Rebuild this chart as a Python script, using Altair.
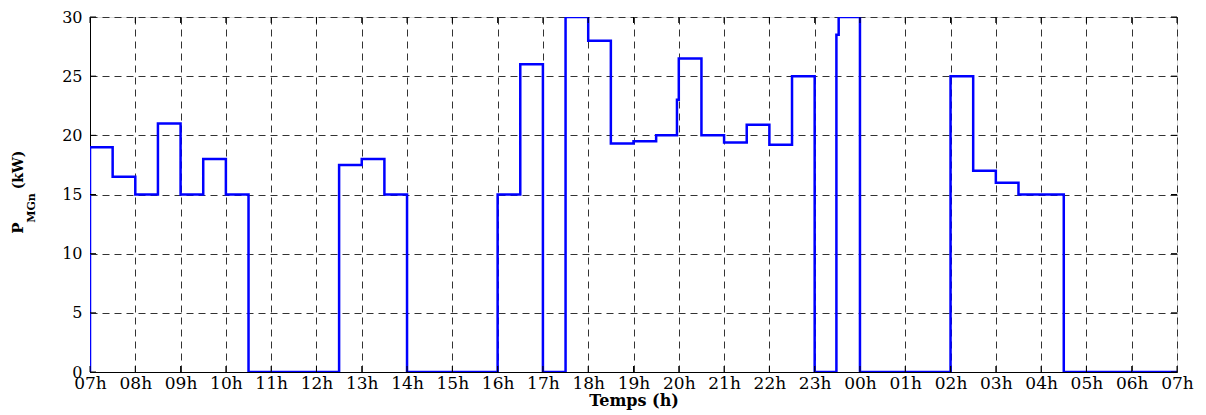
import altair as alt
import pandas as pd

# step-change times (hours after 07h) and power values (kW)
times = [0, 0, 0.5, 1.0, 1.5, 2.0, 2.5, 3.0, 3.5, 5.5, 6.0, 6.5, 7.0, 9.0, 9.5, 10.0,
         10.5, 11.0, 11.5, 12.0, 12.5, 12.96, 13.0, 13.5, 14.0, 14.5, 15.0, 15.5,
         16.0, 16.48, 16.53, 17.0, 19.0, 19.5, 20.0, 20.5, 21.5, 24.0]
power = [0, 19, 16.5, 15, 21, 15, 18, 15, 0, 17.5, 18, 15, 0, 15, 26, 0,
         30, 28, 19.3, 19.5, 20, 23, 26.5, 20, 19.4, 20.9, 19.2, 25,
         0, 28.5, 30, 0, 25, 17, 16, 15, 0, 0]

x_ticks = list(range(25))
x_labels = ["07h", "08h", "09h", "10h", "11h", "12h", "13h", "14h", "15h", "16h",
            "17h", "18h", "19h", "20h", "21h", "22h", "23h", "00h", "01h", "02h",
            "03h", "04h", "05h", "06h", "07h"]
y_ticks = [0, 5, 10, 15, 20, 25, 30]

W, H = 1087, 355
FONT = "DejaVu Serif"

df = pd.DataFrame({"t": times, "p": power, "i": range(len(times))})
label_expr = "[" + ",".join("'%s'" % s for s in x_labels) + "][datum.value]"

xs = alt.Scale(domain=[0, 24], nice=False, zero=False)
ys = alt.Scale(domain=[0, 30], nice=False)

line = alt.Chart(df).mark_line(
    interpolate="step-after", color="#0000FF", strokeWidth=2.5, clip=True
).encode(
    x=alt.X("t:Q", scale=xs, axis=alt.Axis(
        values=x_ticks, labelExpr=label_expr, title="Temps (h)",
        grid=True, gridDash=[7, 5], gridColor="#333333", gridWidth=1,
        tickSize=0, labelPadding=3, labelFont=FONT, labelFontSize=17,
        labelColor="black", labelFlush=False,
        titleFont=FONT, titleFontSize=16, titleFontWeight="bold",
        titleColor="black", titlePadding=1,
        domainColor="black")),
    y=alt.Y("p:Q", scale=ys, axis=alt.Axis(
        values=y_ticks, title=None,
        grid=True, gridDash=[7, 5], gridColor="#333333", gridWidth=1,
        tickSize=0, labelPadding=8, labelFont=FONT, labelFontSize=16,
        labelColor="black", domainColor="black")),
    order=alt.Order("i:Q"),
)

xt = pd.DataFrame({"t": x_ticks})
yt = pd.DataFrame({"p": y_ticks})
tick_bot = alt.Chart(xt).mark_rule(color="black").encode(
    x=alt.X("t:Q", scale=xs), y=alt.value(H), y2=alt.value(H - 6))
tick_top = alt.Chart(xt).mark_rule(color="black").encode(
    x=alt.X("t:Q", scale=xs), y=alt.value(0), y2=alt.value(6))
tick_left = alt.Chart(yt).mark_rule(color="black").encode(
    y=alt.Y("p:Q", scale=ys), x=alt.value(0), x2=alt.value(6))
tick_right = alt.Chart(yt).mark_rule(color="black").encode(
    y=alt.Y("p:Q", scale=ys), x=alt.value(W), x2=alt.value(W - 6))

one = pd.DataFrame({"k": [0]})
ylab_p = alt.Chart(one).mark_text(
    text="P", angle=270, font=FONT, fontSize=15, fontWeight="bold",
    align="center", baseline="middle", color="black"
).encode(x=alt.value(-72), y=alt.value(211))
ylab_sub = alt.Chart(one).mark_text(
    text="MGn", angle=270, font=FONT, fontSize=11, fontWeight="bold",
    align="center", baseline="middle", color="black"
).encode(x=alt.value(-58), y=alt.value(191))
ylab_kw = alt.Chart(one).mark_text(
    text="(kW)", angle=270, font=FONT, fontSize=14, fontWeight="bold",
    align="center", baseline="middle", color="black"
).encode(x=alt.value(-71), y=alt.value(153))

chart = alt.layer(
    line, tick_bot, tick_top, tick_left, tick_right, ylab_p, ylab_sub, ylab_kw
).properties(
    width=W, height=H,
    autosize=alt.AutoSizeParams(type="none"),
    padding={"left": 82, "top": 9, "right": 21, "bottom": 38},
).configure_view(
    stroke="black", strokeWidth=1
).configure(background="white")

chart.save("out.html", embed_options={"renderer": "svg", "actions": False})
